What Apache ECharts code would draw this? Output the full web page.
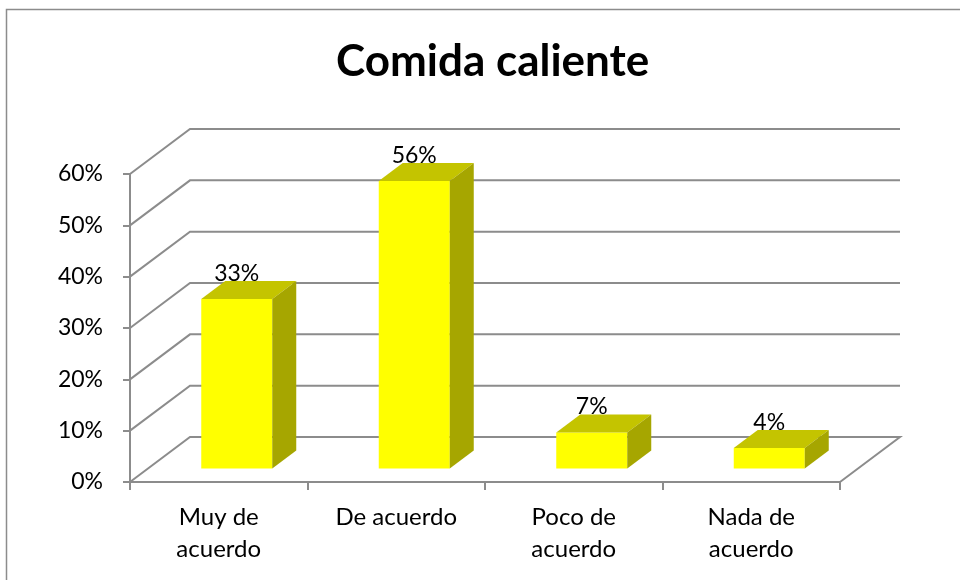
<!DOCTYPE html>
<html>
<head>
<meta charset="utf-8">
<script src="https://cdn.jsdelivr.net/npm/echarts@6/dist/echarts.min.js"></script>
<style>
    html, body { margin: 0; padding: 0; background: #fff; }
    #chart { width: 960px; height: 580px; }
</style>
</head>
<body>
<div id="chart"></div>
<script>
// data
var categories = ['Muy de\nacuerdo', 'De acuerdo', 'Poco de\nacuerdo', 'Nada de\nacuerdo'];
var values = [0.33, 0.56, 0.07, 0.04];
var yTicks = [0, 0.1, 0.2, 0.3, 0.4, 0.5, 0.6];

// fake 3d look: how far the back wall sits from the front plane
var DEPTH_X = 60, DEPTH_Y = -45;
var BAR_FRONT = 0.3, BAR_DEPTH = 0.4, BAR_WIDTH = 0.4;
var GRID_COLOR = '#8c8c8c';
var FONT = 'Lato';

function pct(v) {
    return Math.round(v * 100) + '%';
}

var chart = echarts.init(document.getElementById('chart'));

var option = {
    animation: false,
    backgroundColor: '#fff',
    title: {
        text: 'Comida caliente',
        left: 331,
        top: 35,
        textStyle: { fontFamily: FONT, fontSize: 44, fontWeight: 'bold', color: '#000' }
    },
    graphic: [{
        type: 'rect',
        shape: { x: 6.5, y: 9.5, width: 1000, height: 1000 },
        style: { fill: null, stroke: '#8c8c8c', lineWidth: 1.5 },
        silent: true
    }],
    grid: { left: 130, right: 120, top: 174, bottom: 98 },
    xAxis: {
        type: 'category',
        data: categories,
        boundaryGap: true,
        axisLine: { lineStyle: { color: GRID_COLOR, width: 2 } },
        axisTick: { show: true, length: 8, lineStyle: { color: GRID_COLOR, width: 2 } },
        axisLabel: { fontFamily: FONT, fontSize: 24, lineHeight: 32, color: '#000', margin: 19, interval: 0 },
        splitLine: { show: false }
    },
    yAxis: {
        type: 'value',
        min: 0,
        max: 0.6,
        interval: 0.1,
        axisLine: { show: true, lineStyle: { color: GRID_COLOR, width: 2 } },
        axisTick: { show: true, length: 7, lineStyle: { color: GRID_COLOR, width: 2 } },
        axisLabel: { fontFamily: FONT, fontSize: 23, color: '#000', margin: 27, formatter: pct },
        splitLine: { show: false }
    },
    series: [{
        // back wall + floor lines
        type: 'custom',
        z: 1,
        silent: true,
        clip: false,
        data: yTicks.map(function(v) { return [0, v]; }),
        renderItem: function(params, api) {
            var cs = params.coordSys;
            var v = api.value(1);
            var y = api.coord([0, v])[1];
            var left = cs.x, right = cs.x + cs.width;
            var pts = [[left, y], [left + DEPTH_X, y + DEPTH_Y], [right + DEPTH_X, y + DEPTH_Y]];
            if (v === 0) {
                pts.push([right, y]);
            }
            return {
                type: 'polyline',
                shape: { points: pts },
                style: { fill: null, stroke: GRID_COLOR, lineWidth: 2 }
            };
        }
    }, {
        type: 'custom',
        z: 3,
        clip: false,
        data: values.map(function(v, i) { return [i, v]; }),
        renderItem: function(params, api) {
            var i = api.value(0), v = api.value(1);
            var band = api.size([1, 0])[0];
            var w = band * BAR_WIDTH;
            var ox = DEPTH_X * BAR_FRONT, oy = DEPTH_Y * BAR_FRONT;
            var dx = DEPTH_X * BAR_DEPTH, dy = DEPTH_Y * BAR_DEPTH;
            var p = api.coord([i, v]);
            var p0 = api.coord([i, 0]);
            var cx = p[0] + ox;
            var top = p[1] + oy, bottom = p0[1] + oy;
            var L = cx - w / 2, R = cx + w / 2;
            return {
                type: 'group',
                children: [{
                    type: 'rect',
                    shape: { x: L, y: top, width: w, height: bottom - top },
                    style: { fill: '#ffff00' }
                }, {
                    type: 'polygon',
                    shape: { points: [[L, top], [R, top], [R + dx, top + dy], [L + dx, top + dy]] },
                    style: { fill: '#c4c400' }
                }, {
                    type: 'polygon',
                    shape: { points: [[R, top], [R + dx, top + dy], [R + dx, bottom + dy], [R, bottom]] },
                    style: { fill: '#a6a600' }
                }, {
                    type: 'text',
                    style: {
                        text: pct(v),
                        x: cx,
                        y: top + dy + 4,
                        align: 'center',
                        verticalAlign: 'bottom',
                        fontFamily: FONT,
                        fontSize: 23,
                        fill: '#000'
                    }
                }]
            };
        }
    }]
};

chart.setOption(option);
</script>
</body>
</html>
